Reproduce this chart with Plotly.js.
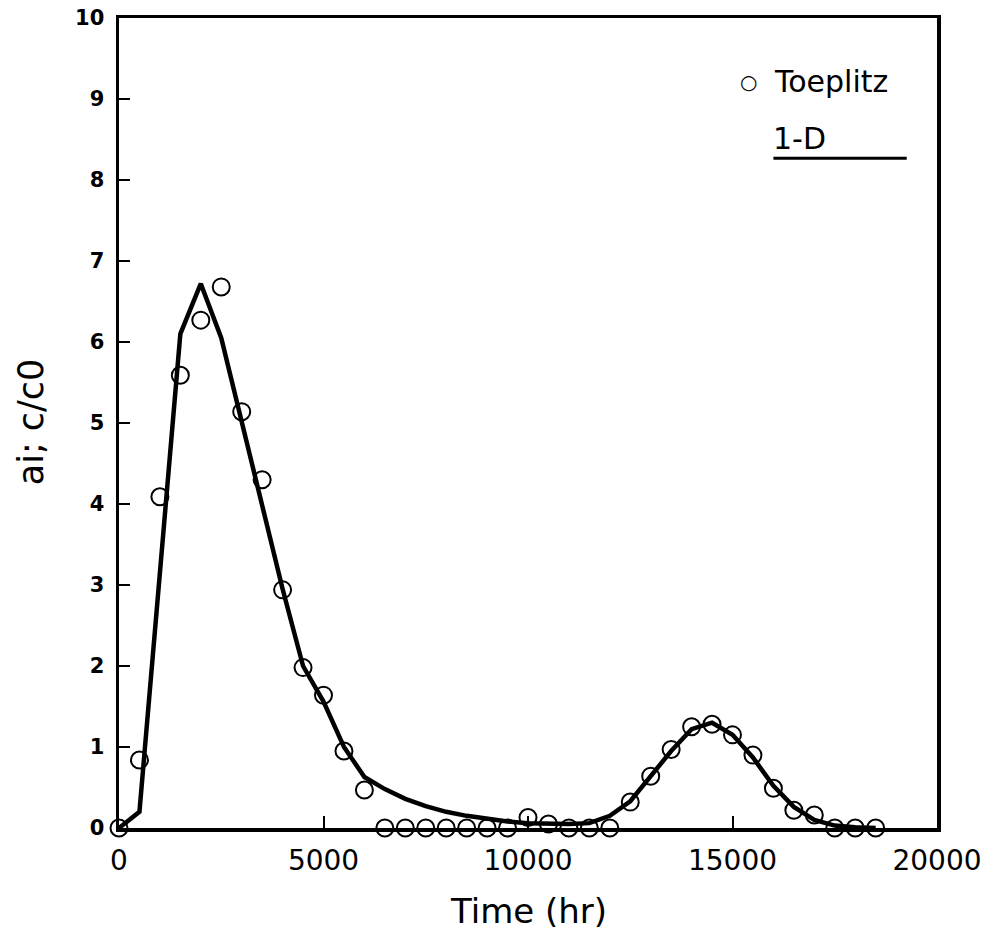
<!DOCTYPE html>
<html>
<head>
<meta charset="utf-8">
<script src="https://cdn.plot.ly/plotly-3.0.1.min.js"></script>
<style>html,body{margin:0;padding:0;background:#fff;}#chart{width:995px;height:935px;}</style>
</head>
<body>
<div id="chart"></div>
<script>
// Toeplitz (circles)
const toeplitzTime = [0,500,1000,1500,2000,2500,3000,3500,4000,4500,5000,5500,6000,6500,7000,7500,8000,8500,9000,9500,10000,10500,11000,11500,12000,12500,13000,13500,14000,14500,15000,15500,16000,16500,17000,17500,18000,18500];
const toeplitzVal = [0,0.84,4.09,5.59,6.27,6.68,5.14,4.3,2.94,1.98,1.64,0.95,0.47,0,0,0,0,0,0,0,0.13,0.05,0,0,0,0.32,0.64,0.97,1.25,1.28,1.15,0.9,0.49,0.22,0.16,0,0,0];
// 1-D (line)
const oneDTime = [0,500,1500,2000,2500,3000,3500,4000,4500,5000,5500,6000,6500,7000,7500,8000,8500,9000,9500,10000,10500,11000,11500,12000,12500,13000,13500,14000,14500,15000,15500,16000,16500,17000,17500,18000,18500];
const oneDVal = [0,0.2,6.1,6.72,6.05,5.02,3.95,2.95,2.0,1.56,1.0,0.63,0.48,0.36,0.27,0.2,0.15,0.11,0.08,0.06,0.05,0.05,0.06,0.15,0.33,0.63,0.95,1.22,1.3,1.15,0.87,0.52,0.26,0.1,0.03,0.01,0];
const xTicks = [0,5000,10000,15000,20000];
const yTicks = [0,1,2,3,4,5,6,7,8,9,10];

const font = 'DejaVu Sans, Liberation Sans, sans-serif';
const traces = [
  {x: oneDTime, y: oneDVal, mode: 'lines', name: '1-D', line: {color: '#000', width: 4.5}, cliponaxis: false},
  {x: toeplitzTime, y: toeplitzVal, mode: 'markers', name: 'Toeplitz',
   marker: {symbol: 'circle-open', size: 17, color: '#000', line: {width: 2, color: '#000'}}, cliponaxis: false}
];
const layout = {
  width: 995, height: 935,
  margin: {l: 119, r: 58, t: 18, b: 107},
  paper_bgcolor: '#fff', plot_bgcolor: '#fff',
  showlegend: false,
  font: {family: font, color: '#000'},
  xaxis: {
    range: [0, 20000], tickvals: xTicks, ticktext: xTicks.map(String),
    ticks: 'inside', ticklen: 12, tickwidth: 2, tickcolor: '#000',
    showgrid: false, zeroline: false,
    showline: true, linewidth: 3.5, linecolor: '#000', mirror: true,
    tickfont: {size: 28, family: font}, ticklabelstandoff: 5,
    title: {text: ''}
  },
  yaxis: {
    range: [0, 10], tickvals: yTicks, ticktext: yTicks.map(String),
    ticks: 'inside', ticklen: 11, tickwidth: 2, tickcolor: '#000',
    showgrid: false, zeroline: false,
    showline: true, linewidth: 3.5, linecolor: '#000', mirror: true,
    tickfont: {size: 21, family: font, weight: 'bold'}, ticklabelstandoff: 7,
    title: {text: ''}
  },
  annotations: [
    {xref: 'paper', yref: 'paper', x: 0.5, y: -0.1025, xanchor: 'center', yanchor: 'middle', showarrow: false,
     text: 'Time (hr)', font: {size: 34, family: font, color: '#000'}},
    {xref: 'paper', yref: 'paper', x: -0.1075, y: 0.501, xanchor: 'center', yanchor: 'middle', showarrow: false,
     textangle: -90, text: 'ai; c/c0', font: {size: 35, family: font, color: '#000'}},
    {xref: 'paper', yref: 'paper', x: 0.769, y: 0.921, xanchor: 'center', yanchor: 'middle', showarrow: false,
     text: '○', font: {size: 20, family: font, color: '#000'}},
    {xref: 'paper', yref: 'paper', x: 0.798, y: 0.921, xanchor: 'left', yanchor: 'middle', showarrow: false,
     text: 'Toeplitz', font: {size: 30, family: font, color: '#000'}},
    {xref: 'paper', yref: 'paper', x: 0.797, y: 0.851, xanchor: 'left', yanchor: 'middle', showarrow: false,
     text: '1-D', font: {size: 30, family: font, color: '#000'}}
  ],
  shapes: [
    {type: 'line', xref: 'paper', yref: 'paper', x0: 0.8, x1: 0.963, y0: 0.827, y1: 0.827, line: {color: '#000', width: 3}}
  ]
};
Plotly.newPlot('chart', traces, layout, {displayModeBar: false, staticPlot: true});
</script>
</body>
</html>
